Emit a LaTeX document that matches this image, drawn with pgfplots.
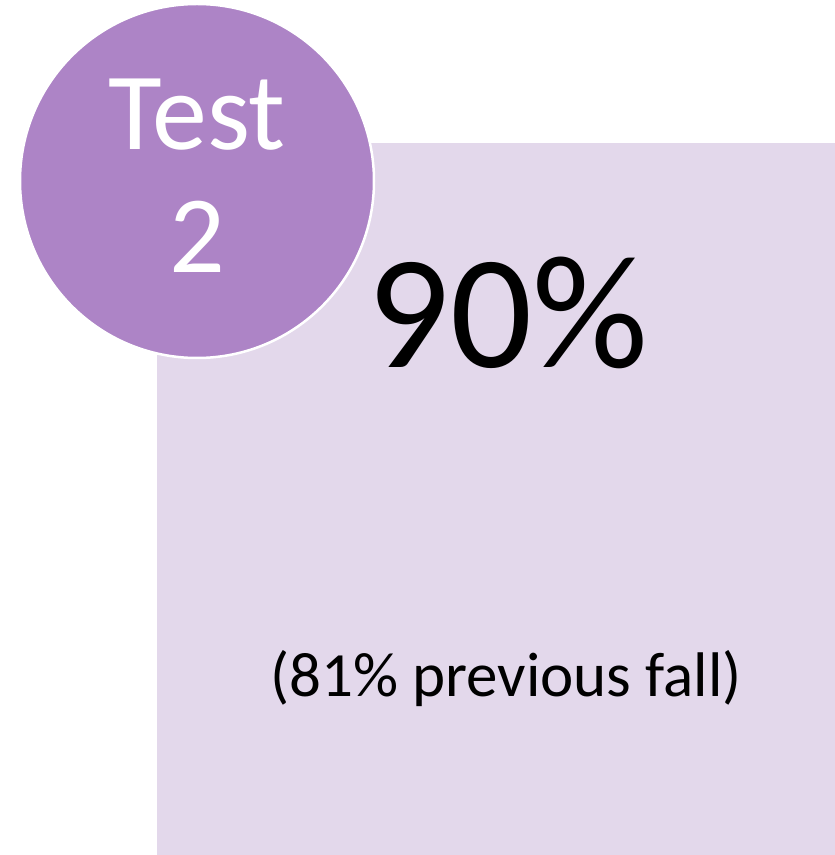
\documentclass[border=0pt]{standalone}
\usepackage{pgfplots}
\pgfplotsset{compat=1.18}
\usepackage{fontspec}
\setmainfont{Carlito}
\definecolor{circ}{HTML}{AD84C6}
\definecolor{sq}{HTML}{E3D8EB}
\begin{document}
\begin{tikzpicture}
\begin{axis}[
  width=835pt, height=855pt, scale only axis,
  xmin=0, xmax=835, ymin=0, ymax=855,
  hide axis, clip=false, set layers,
]
\path (axis cs:0,0) rectangle (axis cs:835,855);
\addplot[fill=sq, draw=none] coordinates {(157,0) (835,0) (835,712) (157,712)} -- cycle;
\addplot[only marks, mark=*, mark size=177pt, mark options={fill=circ, draw=white, line width=2.5pt}] coordinates {(197,674)};
\begin{pgfonlayer}{axis foreground}
\node[anchor=base, text=white, font=\fontsize{110}{123}\selectfont, inner sep=0pt] at (axis cs:197,705) {Test};
\node[anchor=base, text=white, font=\fontsize{110}{123}\selectfont, inner sep=0pt] at (axis cs:197,582) {2};
\node[anchor=base, text=black, font=\fontsize{162}{170}\selectfont, inner sep=0pt] at (axis cs:508,487) {90\%};
\node[anchor=base, text=black, font=\fontsize{63}{70}\selectfont, inner sep=0pt] at (axis cs:506,158) {(81\% previous fall)};
\end{pgfonlayer}
\end{axis}
\end{tikzpicture}
\end{document}
